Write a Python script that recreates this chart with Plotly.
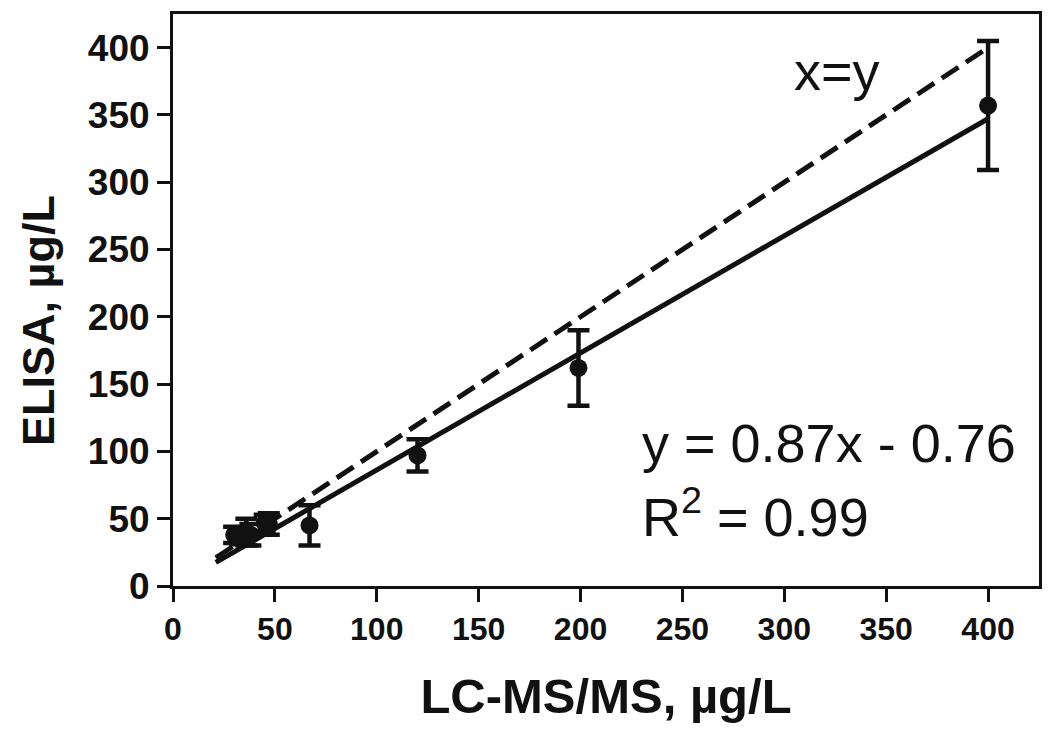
import plotly.graph_objects as go

# mean values
lcms = [30, 33, 36, 38, 45, 47, 67, 120, 199, 400]
elisa = [38, 36, 40, 38, 47, 46, 45, 97, 162, 357]
elisa_sd = [6, 5, 10, 8, 6, 8, 15, 12, 28, 48]

# regression line and identity line end points
fit_x = [21, 400]
fit_y = [17.5, 347.2]
ident_x = [21, 400]
ident_y = [21, 400]

ticks = [0, 50, 100, 150, 200, 250, 300, 350, 400]

FONT = "Liberation Sans, Arial, sans-serif"
INK = "#111"

fig = go.Figure()
fig.add_trace(go.Scatter(
    x=ident_x, y=ident_y, mode="lines",
    line=dict(color=INK, width=5, dash="20px,9px"),
    showlegend=False,
))
fig.add_trace(go.Scatter(
    x=fit_x, y=fit_y, mode="lines",
    line=dict(color=INK, width=5),
    showlegend=False,
))
fig.add_trace(go.Scatter(
    x=lcms, y=elisa, mode="markers",
    marker=dict(color=INK, size=18),
    error_y=dict(type="data", array=elisa_sd, color=INK, thickness=4.5, width=11),
    showlegend=False,
))

txt_font = dict(family=FONT, size=54, color=INK)
fig.add_annotation(x=326, y=383, text="x=y", showarrow=False, font=txt_font)
fig.add_annotation(x=229, y=106, text="y = 0.87x - 0.76", showarrow=False,
                   xanchor="left", yanchor="middle", font=txt_font)
fig.add_annotation(x=229, y=54, text="R<sup>2</sup> = 0.99", showarrow=False,
                   xanchor="left", yanchor="middle", font=txt_font)

# y title as annotation so it can sit a little lower, like the original
fig.add_annotation(
    xref="paper", yref="paper", x=-0.156, y=0.465,
    xanchor="center", yanchor="middle",
    text="<b>ELISA, µg/L</b>", textangle=-90, showarrow=False,
    font=dict(family=FONT, size=45, color=INK),
)

axis_common = dict(
    showgrid=False, zeroline=False,
    showline=True, linecolor=INK, linewidth=3, mirror=True,
    ticks="outside", ticklen=13, tickwidth=3, tickcolor=INK,
    tickvals=ticks,
)
fig.update_xaxes(
    range=[0, 425], **axis_common,
    tickfont=dict(family=FONT, size=32, color=INK, weight="bold"),
    title=dict(text="<b>LC-MS/MS, µg/L</b>", standoff=33,
               font=dict(family=FONT, size=49, color=INK)),
)
fig.update_yaxes(
    range=[0, 425], **axis_common,
    tickfont=dict(family=FONT, size=37, color=INK, weight="bold"),
)

# page body adds an 8px offset, margins compensate for it
fig.update_layout(
    width=1050, height=746,
    margin=dict(l=165, r=19, t=3, b=168),
    plot_bgcolor="white", paper_bgcolor="white",
)

fig.write_html("out.html")
